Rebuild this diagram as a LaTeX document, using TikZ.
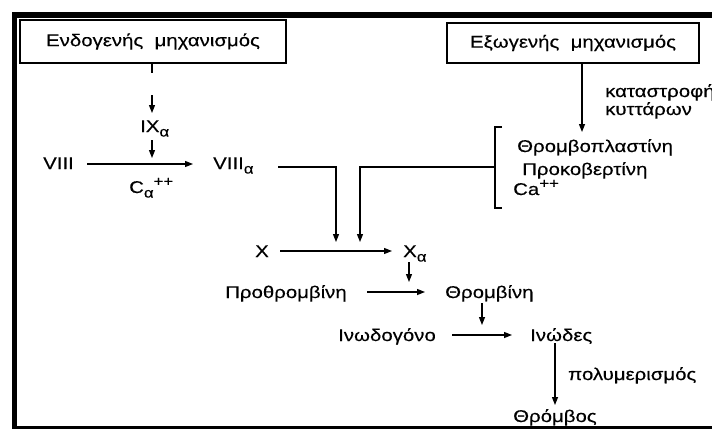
\documentclass[tikz,border=0pt]{standalone}
\usepackage{fontspec}
\setmainfont{Liberation Sans}[FakeStretch=1.2,FakeBold=0.3]
\usetikzlibrary{arrows.meta}
\newcommand{\subal}{\raisebox{-4.5pt}{\fontsize{14}{14}\selectfont α}}
\newcommand{\suppp}{\raisebox{7pt}{\fontsize{14}{14}\selectfont ++}}
\begin{document}
\begin{tikzpicture}[x=1pt,y=-1pt,
  lbl/.style={anchor=base west,inner sep=0pt,font=\fontsize{17}{20}\selectfont},
  mbox/.style={draw,line width=1.3pt,inner sep=0pt,font=\fontsize{17}{20}\selectfont},
  con/.style={line width=1.3pt},
  arr/.style={line width=1.3pt,-{Triangle[length=8pt,width=6pt]}}]
\useasboundingbox (0,0) rectangle (712,429);
\clip (0,0) rectangle (712,429);
% frame
\fill (12,12) rectangle (712,17.5);
\fill (12,12) rectangle (17,428.5);
\fill (12,426) rectangle (712,428.5);
% boxes
\node[mbox,minimum width=266pt,minimum height=43pt] (endo) at (153,41.5) {Ενδογενής\ \ μηχανισμός};
\node[mbox,minimum width=252pt,minimum height=40pt] (exo) at (573,43) {Εξωγενής\ \ μηχανισμός};
% labels
\node[lbl] (ixa) at (140,132) {IX\subal};
\node[lbl] (viii) at (43,169) {VIII};
\node[lbl] (viiia) at (213,169) {VIII\subal};
\node[lbl] (caa) at (129,193) {C\subal\suppp};
\node[lbl] (kat) at (605,97) {καταστροφή};
\node[lbl] (kyt) at (605,115) {κυττάρων};
\node[lbl] (thrp) at (517,152) {Θρομβοπλαστίνη};
\node[lbl] (prok) at (522,175) {Προκοβερτίνη};
\node[lbl] (ca) at (513,195) {Ca\suppp};
\node[lbl] (x) at (255,257) {X};
\node[lbl] (xa) at (403,257) {X\subal};
\node[lbl] (proth) at (225,298) {Προθρομβίνη};
\node[lbl] (thromb) at (445,298) {Θρομβίνη};
\node[lbl] (inod) at (338,341) {Ινωδογόνο};
\node[lbl] (inodes) at (530,341) {Ινώδες};
\node[lbl] (poly) at (568,380) {πολυμερισμός};
\node[lbl] (thrombos) at (513,422) {Θρόμβος};
% coordinates
\coordinate (t1) at (152,73);
\coordinate (a1s) at (152,95);
\coordinate (a1e) at (152,113);
\coordinate (a2s) at (152,140);
\coordinate (a2e) at (152,158);
\coordinate (h1s) at (87,164);
\coordinate (h1e) at (193,164);
\coordinate (v1s) at (278,167);
\coordinate (v1c) at (336,167);
\coordinate (v1e) at (336,242);
\coordinate (b1s) at (495,167);
\coordinate (b1c) at (360,167);
\coordinate (b1e) at (360,242);
\coordinate (exe) at (582,132);
\coordinate (br1) at (502,127);
\coordinate (br2) at (495,127);
\coordinate (br3) at (495,208);
\coordinate (br4) at (502,208);
\coordinate (xs) at (280,251);
\coordinate (xe) at (392,251);
\coordinate (xas) at (409,262);
\coordinate (xae) at (409,282);
\coordinate (ps) at (367,292);
\coordinate (pe) at (425,292);
\coordinate (ts) at (482,303);
\coordinate (te) at (482,325);
\coordinate (is) at (452,335);
\coordinate (ie) at (512,335);
\coordinate (ps2) at (555,343);
\coordinate (pe2) at (555,405);
% connectors
\draw[con] (endo.south -| t1) -- (t1);
\draw[arr] (a1s) -- (a1e);
\draw[arr] (a2s) -- (a2e);
\draw[arr] (h1s) -- (h1e);
\draw[arr] (v1s) -- (v1c) -- (v1e);
\draw[arr] (b1s) -- (b1c) -- (b1e);
\draw[arr] (exo.south -| exe) -- (exe);
\draw[con] (br1) -- (br2) -- (br3) -- (br4);
\draw[arr] (xs) -- (xe);
\draw[arr] (xas) -- (xae);
\draw[arr] (ps) -- (pe);
\draw[arr] (ts) -- (te);
\draw[arr] (is) -- (ie);
\draw[arr] (ps2) -- (pe2);
\end{tikzpicture}
\end{document}
